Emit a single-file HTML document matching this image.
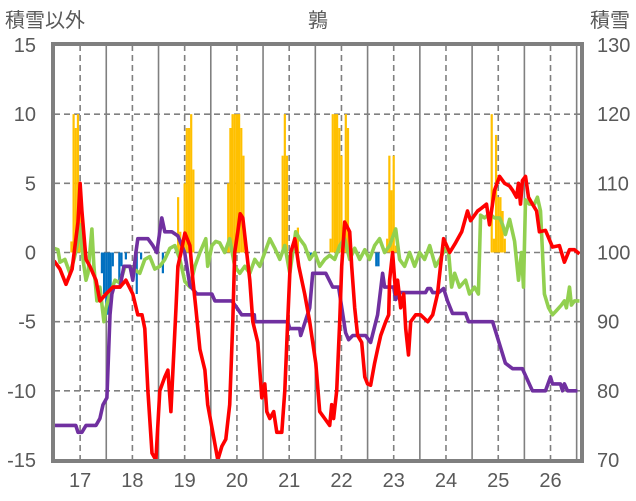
<!DOCTYPE html>
<html><head><meta charset="utf-8">
<style>
html,body{margin:0;padding:0;background:#fff;}
svg{display:block;font-family:"Liberation Sans","Noto Sans CJK JP",sans-serif;}
</style></head>
<body>
<svg id="chart" width="636" height="501" viewBox="0 0 636 501">
  <text x="5" y="27" font-size="20" fill="#595959">積雪以外</text>
  <text x="318" y="27" font-size="20" fill="#595959" text-anchor="middle">鶉</text>
  <text x="590" y="27" font-size="20" fill="#595959">積雪</text>
  <g id="grid"></g>
  <g id="bars"></g>
  <g id="lines"></g>
  <g id="frame"></g>
  <g id="labels"></g>
</svg>
<script>
const leftTicks = [15, 10, 5, 0, -5, -10, -15];
const rightTicks = [130, 120, 110, 100, 90, 80, 70];
const dayLabels = ["17","18","19","20","21","22","23","24","25","26"];

const orangeHours = [8,9,10,11,12, 57,58,59,60,61,62,63,64, 80,81,82,83,84,85,86,87, 105,106,107,112, 127,128,129,130,131,132,133,134,135,136, 153,154,155,156,157, 201,202,203,204,205,206,207];
const orangeValues = [0.8,10,9,10,4, 4,1.5,0.5,5,9,9,10,6, 5,9,10,10,10,10,9,7, 7,10,7,1.8, 1,10,10,10,9,7,0.5,10,9,1, 1,7,4.5,7,0.5, 10,1,8.5,4,4,3,1];
const blueHours = [22,23,24,25,26,27,30,31,33,38,40,50,118,148,149,215];
const blueValues = [-1.5,-3,-4.5,-4.5,-3,-1,-2,-1,-0.5,-3,-0.5,-1.5,-0.5,-1,-1,-1.5];

const redHours = [0,2.75,5.5,8.3,11,12,12.8,14.7,16.5,19.3,21.1,23.9,27,30.3,33,36.2,38.5,40.4,41.7,43.1,45,46.8,48.6,50.9,52.3,53.7,56,56.9,58.3,60.1,62.4,63.8,65.1,67,69.3,70.6,72.9,75.2,77.1,78.9,80.7,82.1,83,84.4,85.5,86.7,88.5,89.9,91.3,93.6,95.4,96.8,97.7,99.1,100.9,102.3,104.6,106,107.3,108.7,110.6,112.4,115.1,117.4,120.2,122,124.3,126.6,127.5,128.4,129.8,131.2,132.1,133.5,135.8,136.7,138.1,139.4,141.3,142.7,144,145.4,147.2,148.6,150,152.3,153.7,154.1,155.5,156.9,157.8,159.2,160.6,161.5,162.8,163.8,166.1,168.3,171.6,173.9,176.1,177.5,178.9,181.7,184.4,187.2,189.9,191.3,194.5,196.3,198.6,200,202.3,204.6,206.9,209.2,210.6,212.4,213.3,214.2,215.1,216.5,217.9,219.7,221.6,222.9,225.7,228.9,232.1,234.4,236.7,239,241.3];
const redValues = [-0.6,-1.2,-2.3,-1.2,2.2,5,3,-0.5,-1,-2,-3.5,-3,-2.5,-2.5,-2,-3,-4.5,-4.5,-5.5,-10,-14.5,-15,-10,-9,-8.5,-11.5,-4,-1,0,1.4,0.5,-2,-4,-7,-8.5,-11,-13,-15,-14,-13.5,-11,-5,0,1.5,2.8,2.5,0,-2,-5,-6.5,-10.5,-9.5,-11.5,-12,-11.5,-13,-13,-10,-5,0,1,-1,-3,-5,-8,-11.5,-12,-12.5,-11,-12,-10,-5,-1,2.2,1.5,-1,-4,-6,-6.5,-9,-9.5,-9.6,-8,-7,-6,-5,-4.5,-2,0,-3,-2,-4,-3,-5.5,-7.4,-5,-4.5,-4.5,-5,-4.5,-3,-1,1,0,0.7,1.5,3,2.3,3,3.2,3.5,2,4.5,5.5,5,4.8,4.5,4,5,3.5,5.2,5.5,4,3.5,3,1.5,1.6,0.4,0.5,-0.7,0.2,0.2,-0.1];

const purpleHours = [0,10,11,12.8,14.7,19.3,21.1,22.5,24.3,25.7,26.6,27.5,30.3,32.1,34.9,36.2,37.6,38.5,43.1,45.4,47.2,49.5,50.9,54.1,56.9,60,62.4,65.6,72.5,73.9,81.7,84,86.2,92,92.2,107.3,108.3,112.8,113.3,117.4,118.8,124.8,128,130.7,133.9,135.3,137.2,143.1,145.4,148.6,150.9,151.8,156,156.9,158.3,170.6,171.6,172.9,173.9,176.6,178.9,180.7,183,189,190.4,201.4,207.3,210.6,215.1,217.4,219.7,225.7,228,228.9,232.6,233.5,234.4,235.8,240.4];
const purpleValues = [-12.5,-12.5,-13,-13,-12.5,-12.5,-12,-11,-10.5,-4.5,-3,-2.5,-2.5,-1,-1,-2,0,1,1,0.5,0,2.5,1.5,1.5,1.2,0,-2.4,-3,-3,-3.5,-3.5,-4,-4.5,-4.5,-5,-5,-5.5,-5.5,-6,-4,-1.5,-1.5,-2.5,-2.5,-5.8,-6.3,-6,-6,-6.5,-4.5,-1.5,-2.5,-2.5,-3.4,-2.9,-2.9,-2.6,-2.6,-2.9,-2.9,-2.6,-3.5,-4.4,-4.4,-5,-5,-8,-8.4,-8.4,-9.2,-10,-10,-9,-9.5,-9.5,-10,-9.5,-10,-10];

const greenHours = [0,1.8,2.75,5,7.3,9.2,10.6,12,13.3,14.7,15.6,17.4,18.3,19.7,21.1,22.9,23.9,25.7,28,30.3,32.6,34.9,39.4,41.7,44,46.3,48.6,50.9,53.2,55.5,57.8,60.1,62.4,64.7,67,69.7,70.6,72.5,74.3,76.1,78.4,80.7,83,85.3,87.6,89.9,92.2,94.5,96.8,99.1,101.4,103.7,106,108.3,111,112.8,115.1,117.4,119.7,122,124.3,126.6,128.9,131.2,133.5,135.8,138.1,140.4,142.7,144.9,147.2,149.5,151.8,154.1,156.9,158.7,161,163.3,165.6,167.9,170.2,172.5,175.2,177.1,179.8,181.2,182.6,184,186.2,189,190.8,193.1,194.9,195.9,197.7,200,202.3,204.6,206,207.3,209.2,211.5,213.3,214.7,215.6,216.5,218.3,220.6,222,223.4,224.3,225.2,227.1,228.9,230.7,233,234.4,235.3,236.7,237.6,239,241.3];
const greenValues = [0.3,0.2,-0.7,-0.5,-1.5,-0.5,0.5,2,-0.5,-2,-1.5,1.7,-1,-3.5,-2.5,-5,-4,-3,-2,-2.2,-1,-1,-1.5,-0.5,-0.3,-1.2,-1,-0.5,0.3,0.5,-0.5,-2.1,-2.5,-1,0,1,-1,0.5,0.8,0.7,0,1,-1,-1.5,-1,-1.5,-0.5,-1,0,1,0.3,-0.5,0.5,-1.5,1.5,1,0.5,-0.5,0,-1,-0.5,-0.2,-0.5,0.5,1,-0.5,0.3,-0.5,0.2,-0.5,0.5,1,0,0.5,1.7,-0.5,-1,0,-1,0,-0.5,0.5,-1,-0.5,0.3,0,-2.5,-1.5,-2.5,-2,-3,-2.5,-3,2.7,2.5,2.8,2.5,2.5,2,1.3,2.4,0.8,-2,0,-2.5,3.8,3.5,3.5,4,3,0,-3,-4,-4.5,-4.2,-3.8,-3.5,-4,-2.5,-3.8,-3.5,-3.5];

const NS = "http://www.w3.org/2000/svg";
const PX0 = 54, PX1 = 581, PY0 = 45, PY1 = 460;
const H_MAX = 242;
function X(h){ return PX0 + h * (PX1 - PX0) / H_MAX; }
function Y(v){ return PY1 - (v + 15) * (PY1 - PY0) / 30; }
function mk(tag, attrs, parent){
  const e = document.createElementNS(NS, tag);
  for (const k in attrs) e.setAttribute(k, attrs[k]);
  parent.appendChild(e);
  return e;
}
const grid = document.getElementById('grid');
const bars = document.getElementById('bars');
const lines = document.getElementById('lines');
const frame = document.getElementById('frame');
const labels = document.getElementById('labels');

leftTicks.forEach(v => {
  if (v === 15 || v === -15) return;
  const l = mk('line', {x1:PX0, x2:PX1, y1:Y(v), y2:Y(v), stroke:'#808080', 'stroke-width':1.6, 'stroke-dasharray':'6,4'}, grid);
  
  
});
for (let d = 1; d < 11; d++) {
  const x = X(d * 24);
  if (x < PX1 - 2) {
    const l = mk('line', {x1:x, x2:x, y1:PY0, y2:PY1, stroke:'#808080', 'stroke-width':1.6}, grid);
    
    
  }
}
dayLabels.forEach((lab, i) => {
  const x = X(i * 24 + 12);
  const l = mk('line', {x1:x, x2:x, y1:PY0, y2:PY1, stroke:'#808080', 'stroke-width':1.6, 'stroke-dasharray':'6,4'}, grid);
  
  
  const t = mk('text', {x:x, y:487, 'font-size':20, fill:'#595959', 'text-anchor':'middle'}, labels);
  t.textContent = lab;
  
  
});

orangeHours.forEach((h, i) => {
  const v = orangeValues[i];
  const r = mk('rect', {x:X(h) - 1.1, y:Y(v), width:2.2, height:Y(0) - Y(v), fill:'#ffc000'}, bars);
  
  
});
blueHours.forEach((h, i) => {
  const v = blueValues[i];
  const r = mk('rect', {x:X(h) - 1.1, y:Y(0), width:2.2, height:Y(v) - Y(0), fill:'#0070c0'}, bars);
  
  
});

function drawLine(hours, vals, color, name){
  const d = hours.map((h, i) => (i ? 'L' : 'M') + X(h).toFixed(1) + ' ' + Y(vals[i]).toFixed(1)).join(' ');
  const p = mk('path', {d:d, fill:'none', stroke:color, 'stroke-width':3.6, 'stroke-linejoin':'round'}, lines);
  
  
}
drawLine(greenHours, greenValues, '#92d050', 'green-series-line');
drawLine(purpleHours, purpleValues, '#7030a0', 'snow-depth-line');
drawLine(redHours, redValues, '#ff0000', 'temperature-line');

const fr = mk('rect', {x:PX0 - 1, y:PY0 - 1, width:PX1 - PX0 + 2, height:PY1 - PY0 + 2, fill:'none', stroke:'#7f7f7f', 'stroke-width':4}, frame);



leftTicks.forEach(v => {
  const t = mk('text', {x:36, y:Y(v) + 7, 'font-size':20, fill:'#595959', 'text-anchor':'end'}, labels);
  t.textContent = v;
  
  
});
rightTicks.forEach((v, i) => {
  const t = mk('text', {x:597, y:Y(leftTicks[i]) + 7, 'font-size':20, fill:'#595959'}, labels);
  t.textContent = v;
  
  
});
</script>
</body></html>
